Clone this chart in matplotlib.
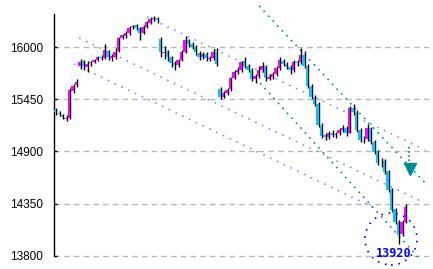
import numpy as np
import matplotlib
matplotlib.use("Agg")
import matplotlib.pyplot as plt
from matplotlib.patches import Ellipse

# daily candles
opens = [15340, 15310, 15290, 15240, 15255, 15540, 15600, 15800, 15850, 15790,
         15830, 15845, 15870, 15900, 15890, 15960, 15890, 15900, 15960, 16100,
         16120, 16150, 16210, 16230, 16200, 16150, 16210, 16260, 16300, 16310,
         16090, 15940, 15960, 15900, 15830, 15810, 15870, 15950, 16080, 16030,
         16000, 15940, 15900, 15930, 15880, 15890, 15950, 15560, 15480, 15520,
         15560, 15680, 15740, 15760, 15850, 15800, 15760, 15660, 15700, 15760,
         15800, 15670, 15690, 15720, 15780, 15860, 15820, 15790, 15760, 15840,
         15840, 15920, 15800, 15590, 15480, 15400, 15180, 15070, 15050, 15100,
         15070, 15090, 15130, 15150, 15100, 15360, 15320, 15130, 15020, 15030,
         15150, 15000, 14900, 14780, 14800, 14690, 14500, 14290, 14160, 14030,
         14160]
closes = [15319, 15298, 15266, 15255, 15550, 15592, 15634, 15845, 15803, 15824,
          15845, 15866, 15897, 15887, 15971, 15897, 15908, 15950, 16098, 16129,
          16151, 16203, 16224, 16203, 16151, 16214, 16266, 16298, 16309, 16287,
          15950, 15950, 15897, 15834, 15813, 15866, 15950, 16077, 16035, 16003,
          15950, 15897, 15929, 15887, 15887, 15950, 15824, 15477, 15519, 15550,
          15677, 15740, 15761, 15845, 15803, 15761, 15666, 15698, 15761, 15803,
          15677, 15687, 15719, 15782, 15866, 15824, 15792, 15761, 15845, 15835,
          15919, 15803, 15592, 15477, 15403, 15182, 15066, 15056, 15098, 15077,
          15087, 15129, 15150, 15098, 15361, 15319, 15129, 15024, 15024, 15150,
          15003, 14897, 14781, 14781, 14687, 14497, 14287, 14160, 14023, 14160,
          14318]
highs = [15360, 15330, 15300, 15280, 15570, 15610, 15660, 15880, 15870, 15850,
         15860, 15880, 15910, 15915, 16030, 15975, 15930, 15990, 16110, 16140,
         16170, 16225, 16240, 16250, 16215, 16235, 16280, 16320, 16330, 16320,
         16110, 16010, 15970, 15910, 15850, 15880, 15970, 16120, 16090, 16060,
         16020, 15960, 15950, 15945, 15910, 15980, 15990, 15580, 15540, 15570,
         15690, 15760, 15790, 15860, 15900, 15820, 15780, 15720, 15800, 15840,
         15810, 15720, 15740, 15800, 15900, 15880, 15840, 15810, 15870, 15870,
         15990, 15960, 15820, 15610, 15500, 15420, 15200, 15100, 15120, 15130,
         15110, 15150, 15180, 15170, 15380, 15400, 15340, 15150, 15060, 15190,
         15160, 15020, 14920, 14830, 14820, 14700, 14510, 14300, 14180, 14180,
         14340]
lows = [15290, 15270, 15245, 15225, 15240, 15520, 15585, 15770, 15760, 15740,
        15800, 15830, 15850, 15870, 15880, 15870, 15860, 15880, 15950, 16085,
        16100, 16130, 16190, 16180, 16080, 16140, 16200, 16250, 16280, 16260,
        15900, 15880, 15860, 15790, 15760, 15790, 15850, 15940, 16000, 15980,
        15920, 15870, 15880, 15860, 15860, 15870, 15800, 15450, 15460, 15500,
        15540, 15660, 15720, 15740, 15780, 15740, 15640, 15620, 15680, 15740,
        15640, 15650, 15670, 15700, 15760, 15800, 15770, 15720, 15740, 15800,
        15820, 15780, 15570, 15450, 15380, 15160, 15040, 15020, 15030, 15050,
        15040, 15070, 15110, 15060, 15090, 15290, 15110, 15000, 14990, 15010,
        14980, 14870, 14760, 14740, 14660, 14470, 14260, 14130, 13920, 14010,
        14140]

# trend lines: (start index, start price, end index, end price)
channel_lines = [(26.3, 16320, 105.7, 14916),
                 (6.9, 16098, 105.1, 14367),
                 (5.4, 15824, 91.5, 14300)]
teal_lines = [(58.3, 16436, 106.3, 14546),
              (58.6, 15622, 103.7, 13786)]

yticks = [13800, 14350, 14900, 15450, 16000]
low_label = "13920"
low_pos = (96.0, 13976)
arrow_pos = (101.4, 14715)

fig = plt.figure(figsize=(4.33, 2.69), dpi=100)
ax = fig.add_axes([0, 0, 1, 1])
ax.set_xlim(-15.714, 108)
ax.set_ylim(13659, 16499)

# grid lines from the axis to the right edge
ax.hlines(yticks, -0.3, 108, colors="#b8b8b8", linestyles=(0, (4, 3)), linewidth=1, zorder=1)

for x0, y0, x1, y1 in channel_lines:
    ax.plot([x0, x1], [y0, y1], color="#8c8cf0", linestyle=(0, (1, 3.5)), linewidth=1.2, zorder=2)
for x0, y0, x1, y1 in teal_lines:
    ax.plot([x0, x1], [y0, y1], color="#008c8c", linestyle=(0, (1, 3)), linewidth=1.2, zorder=2)

x = np.arange(len(closes))
o = np.array(opens)
c = np.array(closes)
up = c >= o
ax.vlines(x + 0.3, lows, highs, colors="black", linewidth=1, zorder=3)
ax.bar(x[up], (c - o)[up], bottom=o[up], width=0.7, color="#ff00ff", zorder=4)
ax.bar(x[~up], (c - o)[~up], bottom=o[~up], width=0.7, color="#00c8ff", zorder=4)

# arrow marker
ax.plot([arrow_pos[0] - 0.3] * 2, [14946, 14760], color="#008c8c", linestyle=(0, (1, 1.5)), linewidth=1.2)
ax.plot(arrow_pos[0], arrow_pos[1], marker="v", color="#008c8c", markersize=8, zorder=5)

# circled low
ax.add_patch(Ellipse(low_pos, 14.9, 549, fill=False, edgecolor="#0000ff",
                     linestyle=(0, (1, 3.5)), linewidth=1.2, zorder=5))
ax.text(96.9, 13818, low_label, color="#0000ff", fontsize=8.5, fontweight="bold",
        family="DejaVu Sans Mono", ha="center", va="center", zorder=6)

for s in ["top", "right", "bottom"]:
    ax.spines[s].set_visible(False)
ax.spines["left"].set_position(("data", -0.3))
ax.spines["left"].set_bounds(13800, 16350)
ax.spines["left"].set_linewidth(1)
ax.set_yticks(yticks)
ax.set_yticklabels([str(t) for t in yticks], family="Liberation Sans")
ax.tick_params(axis="y", direction="in", length=2.5, width=1, pad=8, labelsize=8.5)
ax.set_xticks([])

plt.savefig("out.png", dpi=100)
